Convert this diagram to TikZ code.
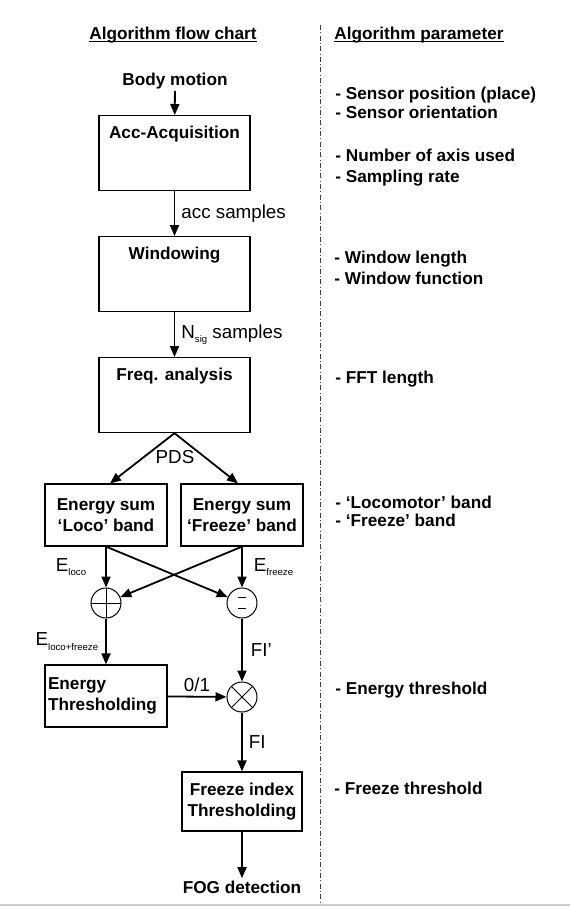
\documentclass[tikz,border=0pt]{standalone}
\usepackage{fontspec}
\setmainfont{Liberation Sans}
\usetikzlibrary{arrows.meta,positioning}
\newcommand{\lowsub}[1]{\raisebox{-0.45ex}{\fontsize{4.8}{5}\selectfont #1}}

\begin{document}
\begin{tikzpicture}[x=0.5pt,y=-0.5pt,
  txt/.style={font=\fontsize{8.6}{10.5}\selectfont\bfseries, inner sep=1pt},
  lbl/.style={font=\fontsize{9.4}{11}\selectfont, inner sep=1pt},
  stagebox/.style={draw, line width=0.6pt, font=\fontsize{8.6}{10.5}\selectfont\bfseries, minimum width=75.5pt, inner sep=0pt, text height=11.5pt, text depth=26pt, anchor=north},
  bandbox/.style={draw, line width=0.6pt, font=\fontsize{8.6}{10.5}\selectfont\bfseries, minimum width=61pt, minimum height=31pt, inner sep=1pt, align=center},
  opnode/.style={circle, draw, line width=0.5pt, minimum size=15pt, inner sep=0pt},
  addop/.style={opnode, path picture={\draw[line width=0.5pt] (path picture bounding box.north) -- (path picture bounding box.south) (path picture bounding box.west) -- (path picture bounding box.east);}},
  subop/.style={opnode, path picture={\draw[line width=0.5pt] ([xshift=-1.8pt,yshift=2.9pt]path picture bounding box.center) -- ++(3.6pt,0) ([xshift=-1.8pt,yshift=-2.9pt]path picture bounding box.center) -- ++(3.6pt,0);}},
  mulop/.style={opnode, path picture={\draw[line width=0.5pt] (path picture bounding box.north west) -- (path picture bounding box.south east) (path picture bounding box.north east) -- (path picture bounding box.south west);}},
  flow/.style={line width=0.9pt, -{Triangle[length=5.5pt,width=4.5pt]}}]
  \useasboundingbox (0,0) rectangle (570,907);

  \node[txt, anchor=base west, inner sep=0pt] (hflow) at (89,39) {Algorithm flow chart};
  \node[txt, anchor=base west, inner sep=0pt] (hparm) at (334,39) {Algorithm parameter};
  \draw[line width=0.5pt] ([yshift=-1pt]hflow.base west) -- ([yshift=-1pt]hflow.base east);
  \draw[line width=0.5pt] ([yshift=-1pt]hparm.base west) -- ([yshift=-1pt]hparm.base east);
  \draw[black!75, line width=0.4pt, dash pattern=on 2.5pt off 1.2pt on 0.4pt off 1.2pt] (320,25) -- (320,903);
  \draw[black!20, line width=1pt] (0,905) -- (570,905);

  \node[txt, anchor=base west] (p1) at (333,99) {- Sensor position (place)};
  \node[txt, anchor=base west] (p2) at (333,118) {- Sensor orientation};
  \node[txt, anchor=base west] (p3) at (333,161) {- Number of axis used};
  \node[txt, anchor=base west] (p4) at (333,182) {- Sampling rate};
  \node[txt, anchor=base west] (p5) at (332,263) {- Window length};
  \node[txt, anchor=base west] (p6) at (332,284) {- Window function};
  \node[txt, anchor=base west] (p7) at (333,383) {- FFT length};
  \node[txt, anchor=base west] (p8) at (333,508) {- `Locomotor' band};
  \node[txt, anchor=base west] (p9) at (333,526) {- `Freeze' band};
  \node[txt, anchor=base west] (p10) at (333,694) {- Energy threshold};
  \node[txt, anchor=base west] (p11) at (332,794) {- Freeze threshold};

  \node[txt, anchor=base] (body) at (175,85) {Body motion};
  \node[stagebox] (acq) at (174.5,115) {Acc-Acquisition};
  \node[stagebox] (win) at (174.5,236) {Windowing\hspace{11pt}};
  \node[stagebox] (frq) at (174.5,357) {Freq. analysis};
  \node[lbl] (pds) at (175,457) {PDS};
  \node[bandbox] (loco) at (106,515) {Energy sum\\`Loco' band};
  \node[bandbox] (frz) at (242,515) {Energy sum\\`Freeze' band};
  \node[addop] (add) at (106,603) {};
  \node[subop] (sub) at (242,603) {};
  \node[bandbox, align=left, text width=58pt] (eth) at (106,696) {Energy\\Thresholding};
  \node[mulop] (mul) at (242,697) {};
  \node[bandbox, minimum width=60pt, minimum height=29.5pt] (fib) at (242,801.5) {Freeze index\\Thresholding};
  \node[txt, anchor=base] (fog) at (242,893) {FOG detection};

  \draw[flow] (body) -- (acq);
  \draw[flow] (acq) -- node[lbl, right=2pt] {acc samples} (win);
  \draw[flow] (win) -- node[lbl, right=2pt] {N\lowsub{sig} samples} (frq);
  \draw[flow] (frq.south) -- ([xshift=2pt]loco.north);
  \draw[flow] (frq.south) -- ([xshift=-2pt]frz.north);
  \draw[flow] (loco) -- node[lbl, left=8.5pt] {E\lowsub{loco}} (add);
  \draw[flow] (frz) -- node[lbl, right=4.5pt] {E\lowsub{freeze}} (sub);
  \draw[flow] (loco.south) -- (sub);
  \draw[flow] (frz.south) -- (add);
  \draw[flow] (add) -- node[lbl, left=2.5pt] {E\lowsub{loco+freeze}} (eth);
  \draw[flow] (sub) -- node[lbl, right=3pt] {FI'} (mul);
  \draw[flow] (eth) -- node[lbl, above=1pt] {0/1} (mul);
  \draw[flow] (mul) -- node[lbl, right=2pt] {FI} (fib);
  \draw[flow] (fib) -- (fog);
\end{tikzpicture}
\end{document}
